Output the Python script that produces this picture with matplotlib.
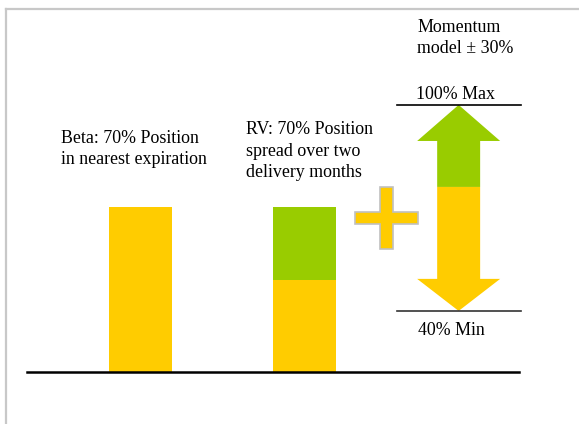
import matplotlib.pyplot as plt
from matplotlib.patches import FancyArrow

plt.rcParams['font.family'] = ['Liberation Serif', 'DejaVu Serif']

# data (percent of position)
bar_pos = [1, 2]
bar_yellow = [70, 39]
bar_green = [0, 31]
bar_labels = ["Beta: 70% Position\nin nearest expiration",
              "RV: 70% Position\nspread over two\ndelivery months"]
arrow_pos = 2.94
arrow_mid = 78.5
arrow_max = 113.3
arrow_min = 25.9
plus_pos = 2.5
plus_mid = 65.3
max_label = "100% Max"
min_label = "40% Min"
momentum_label = "Momentum\nmodel \u00b1 30%"

yellow = '#FFCC00'
green = '#99CC00'
fs = 12.9

fig = plt.figure(figsize=(5.79, 4.24), dpi=100)
ax = fig.add_axes([0, 0, 1, 1])
ax.set_xlim(0.1433, 3.6738)
ax.set_ylim(-22.06, 157.8)
ax.axis('off')

# frame (left + top, light gray)
fig.add_artist(plt.Line2D([0.0095, 0.0095], [0, 0.979], color='#C8C8C8', lw=1.6))
fig.add_artist(plt.Line2D([0.0095, 1], [0.979, 0.979], color='#C8C8C8', lw=1.6))

w = 0.384
ax.bar(bar_pos, bar_yellow, width=w, color=yellow, zorder=2)
ax.bar(bar_pos, bar_green, bottom=bar_yellow, width=w, color=green, zorder=2)

# baseline
ax.plot([0.308, 3.308], [0, 0], color='black', lw=1.8, zorder=3)

# bar labels
ax.text(0.515, 94.6, bar_labels[0], fontsize=fs, ha='left', va='center', linespacing=1.35)
ax.text(1.643, 93.6, bar_labels[1], fontsize=fs, ha='left', va='center', linespacing=1.35)

# plus sign
hw, vw = w / 2, 0.04
hh, vh = 2.55, 13.2
px = [plus_pos - vw, plus_pos + vw, plus_pos + vw, plus_pos + hw, plus_pos + hw, plus_pos + vw,
      plus_pos + vw, plus_pos - vw, plus_pos - vw, plus_pos - hw, plus_pos - hw, plus_pos - vw]
py = [plus_mid + vh, plus_mid + vh, plus_mid + hh, plus_mid + hh, plus_mid - hh, plus_mid - hh,
      plus_mid - vh, plus_mid - vh, plus_mid - hh, plus_mid - hh, plus_mid + hh, plus_mid + hh]
ax.fill(px, py, facecolor=yellow, edgecolor='#C0C0C0', lw=1.2, zorder=2)

# momentum arrows
ax.add_patch(FancyArrow(arrow_pos, arrow_mid, 0, arrow_max - arrow_mid, width=0.262,
                        head_width=0.506, head_length=15.3, length_includes_head=True,
                        color=green, lw=0, zorder=2))
ax.add_patch(FancyArrow(arrow_pos, arrow_mid, 0, arrow_min - arrow_mid, width=0.262,
                        head_width=0.506, head_length=13.6, length_includes_head=True,
                        color=yellow, lw=0, zorder=2))

# max / min lines
ax.plot([2.564, 3.320], [arrow_max, arrow_max], color='black', lw=1.2, zorder=3)
ax.plot([2.564, 3.320], [arrow_min, arrow_min], color='#333333', lw=1.2, zorder=3)

ax.text(2.918, arrow_max + 4.6, max_label, fontsize=fs, ha='center', va='center')
ax.text(2.896, arrow_min - 8.5, min_label, fontsize=fs, ha='center', va='center')
ax.text(2.686, 141.7, momentum_label, fontsize=fs, ha='left', va='center', linespacing=1.35)

fig.savefig('out.png', dpi=100)
